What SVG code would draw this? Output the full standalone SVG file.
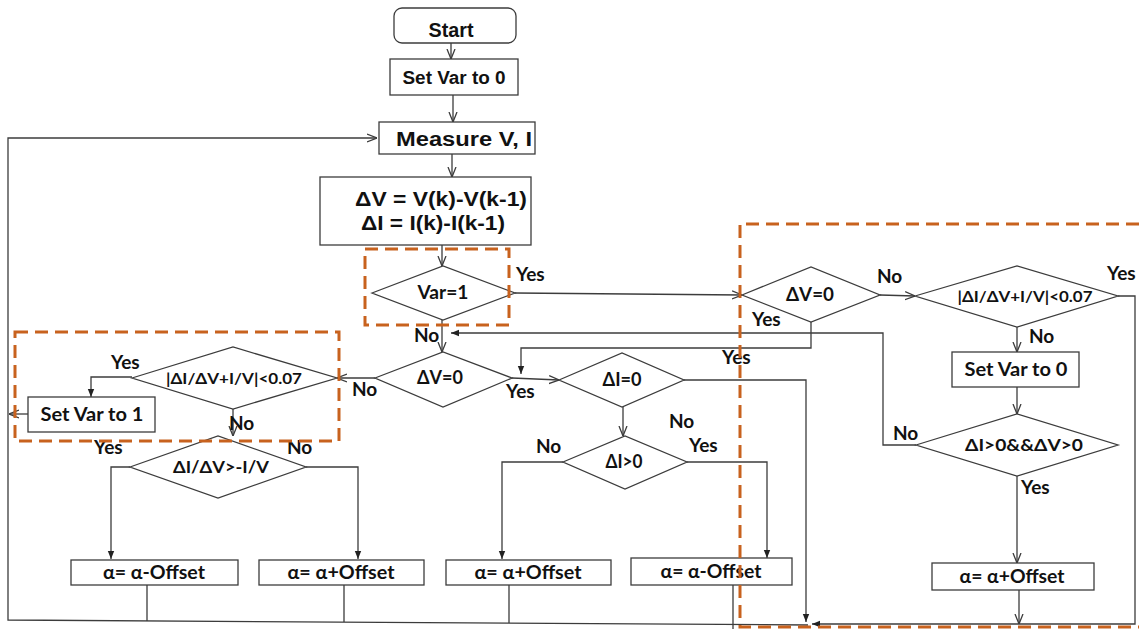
<svg xmlns="http://www.w3.org/2000/svg" width="1139" height="629" viewBox="0 0 1139 629">
<style>
.n{fill:#fff;stroke:#3c3c3c;stroke-width:1.3}
.c{fill:none;stroke:#3c3c3c;stroke-width:1.3}
.d{fill:none;stroke:#C8621E;stroke-width:3;stroke-dasharray:13 7}
.t1{font-family:"Liberation Sans",Arial,sans-serif;font-weight:700;fill:#111;text-anchor:middle}
.t{font-family:Lato,"Open Sans",sans-serif;font-weight:700;fill:#111;text-anchor:middle}
.l{font-family:Lato,"Open Sans",sans-serif;font-weight:700;fill:#111;font-size:19px}
</style>
<defs>
<marker id="ao" viewBox="0 0 10 10" refX="10" refY="5" markerWidth="10" markerHeight="10" markerUnits="userSpaceOnUse" orient="auto"><path d="M0,1 L10,5 L0,9" fill="none" stroke="#3c3c3c" stroke-width="1.3"/></marker>
<marker id="af" viewBox="0 0 10 10" refX="10" refY="5" markerWidth="8" markerHeight="8" markerUnits="userSpaceOnUse" orient="auto"><path d="M0,1 L10,5 L0,9 z" fill="#222"/></marker>
</defs>
<rect width="1139" height="629" fill="#fff"/>

<g id="connectors">
<path class="c" d="M451,43 V59" marker-end="url(#ao)"/>
<path class="c" d="M453,95 V122" marker-end="url(#ao)"/>
<path class="c" d="M452,154 V177" marker-end="url(#ao)"/>
<path class="c" d="M442,245 V266" marker-end="url(#ao)"/>
<path class="c" d="M442,320 V352" marker-end="url(#ao)"/>
<path class="c" d="M515,293 L742,295" marker-end="url(#ao)"/>
<path class="c" d="M512,378 L559,380" marker-end="url(#ao)"/>
<path class="c" d="M375,378 H337" marker-end="url(#ao)"/>
<path class="c" d="M132,377 H91 V397" marker-end="url(#af)"/>
<path class="c" d="M28,414 H9" marker-end="url(#ao)"/>
<path class="c" d="M233,409 V436" marker-end="url(#ao)"/>
<path class="c" d="M130,467 H111 V559" marker-end="url(#af)"/>
<path class="c" d="M306,467 H358 V559" marker-end="url(#af)"/>
<path class="c" d="M623,407 V436" marker-end="url(#ao)"/>
<path class="c" d="M563,462 H502 V559" marker-end="url(#af)"/>
<path class="c" d="M687,462 H767 V558" marker-end="url(#af)"/>
<path class="c" d="M684,380 H806 V622" marker-end="url(#af)"/>
<path class="c" d="M880,295 L915,296" marker-end="url(#ao)"/>
<path class="c" d="M811,322 V348 H521 V374" marker-end="url(#af)"/>
<path class="c" d="M1017,327 V352" marker-end="url(#ao)"/>
<path class="c" d="M1118,296 H1135 V624 H812" marker-end="url(#af)"/>
<path class="c" d="M1017,387 V414" marker-end="url(#ao)"/>
<path class="c" d="M916,445 H883 V333 H451" marker-end="url(#af)"/>
<path class="c" d="M1017,476 V563" marker-end="url(#ao)"/>
<path class="c" d="M1019,590 V624" marker-end="url(#ao)"/>
<path class="c" d="M147,585 V621 M344,585 V622 M509,585 V623 M733,585 V629"/>
<path class="c" d="M808,625 L8,620 V138 H377" marker-end="url(#ao)"/>
</g>

<g id="start"><rect class="n" x="394" y="8" width="122" height="35" rx="8"/><text class="t1" x="451" y="37" font-size="20" textLength="45" lengthAdjust="spacingAndGlyphs">Start</text></g>
<g id="setvar0"><rect class="n" x="390" y="59" width="128" height="36"/><text class="t1" x="454" y="84" font-size="18" textLength="103" lengthAdjust="spacingAndGlyphs">Set Var to 0</text></g>
<g id="measure"><rect class="n" x="379" y="122" width="156" height="32"/><text class="t1" x="464" y="146" font-size="20" textLength="136" lengthAdjust="spacingAndGlyphs">Measure V, I</text></g>
<g id="delta"><rect class="n" x="320" y="177" width="211" height="68"/><text class="t1" x="441" y="206" font-size="20" textLength="172" lengthAdjust="spacingAndGlyphs">ΔV = V(k)-V(k-1)</text><text class="t1" x="433" y="230" font-size="20" textLength="144" lengthAdjust="spacingAndGlyphs">ΔI = I(k)-I(k-1)</text></g>

<g id="var1"><path class="n" d="M372,293 L443,266 L515,293 L443,320 Z"/><text class="t" x="443" y="299" font-size="18" textLength="51" lengthAdjust="spacingAndGlyphs">Var=1</text></g>
<g id="dv0mid"><path class="n" d="M375,378 L443,352 L512,378 L443,407 Z"/><text class="t" x="440" y="384" font-size="18" textLength="46" lengthAdjust="spacingAndGlyphs">ΔV=0</text></g>
<g id="di0"><path class="n" d="M559,380 L622,353 L684,380 L622,407 Z"/><text class="t" x="622" y="386" font-size="18" textLength="39" lengthAdjust="spacingAndGlyphs">ΔI=0</text></g>
<g id="dipos"><path class="n" d="M563,462 L625,436 L687,462 L625,489 Z"/><text class="t" x="624" y="468" font-size="18" textLength="37" lengthAdjust="spacingAndGlyphs">ΔI&gt;0</text></g>
<g id="condleft"><path class="n" d="M132,378 L233,347 L337,378 L233,409 Z"/><text class="t" x="234" y="384" font-size="16" textLength="136" lengthAdjust="spacingAndGlyphs">|ΔI/ΔV+I/V|&lt;0.07</text></g>
<g id="setvar1"><rect class="n" x="28" y="397" width="127" height="35"/><text class="t" x="92" y="421" font-size="18" textLength="103" lengthAdjust="spacingAndGlyphs">Set Var to 1</text></g>
<g id="slope"><path class="n" d="M130,467 L218,436 L306,467 L218,498 Z"/><text class="t" x="221" y="473" font-size="17" textLength="96" lengthAdjust="spacingAndGlyphs">ΔI/ΔV&gt;-I/V</text></g>
<g id="dv0right"><path class="n" d="M742,295 L811,267 L880,295 L811,322 Z"/><text class="t" x="810" y="301" font-size="18" textLength="48" lengthAdjust="spacingAndGlyphs">ΔV=0</text></g>
<g id="condright"><path class="n" d="M915,296 L1017,266 L1118,296 L1017,327 Z"/><text class="t" x="1025" y="302" font-size="16" textLength="135" lengthAdjust="spacingAndGlyphs">|ΔI/ΔV+I/V|&lt;0.07</text></g>
<g id="setvar0r"><rect class="n" x="952" y="352" width="127" height="35"/><text class="t" x="1016" y="376" font-size="18" textLength="103" lengthAdjust="spacingAndGlyphs">Set Var to 0</text></g>
<g id="both"><path class="n" d="M916,445 L1017,414 L1118,445 L1017,476 Z"/><text class="t" x="1024" y="451" font-size="17" textLength="118" lengthAdjust="spacingAndGlyphs">ΔI&gt;0&amp;&amp;ΔV&gt;0</text></g>
<g id="a1"><rect class="n" x="71" y="560" width="167" height="25"/><text class="t" x="154" y="579" font-size="18" textLength="102" lengthAdjust="spacingAndGlyphs">α= α-Offset</text></g>
<g id="a2"><rect class="n" x="259" y="560" width="165" height="25"/><text class="t" x="341" y="579" font-size="18" textLength="107" lengthAdjust="spacingAndGlyphs">α= α+Offset</text></g>
<g id="a3"><rect class="n" x="446" y="560" width="165" height="25"/><text class="t" x="528" y="579" font-size="18" textLength="107" lengthAdjust="spacingAndGlyphs">α= α+Offset</text></g>
<g id="a4"><rect class="n" x="631" y="558" width="161" height="27"/><text class="t" x="711" y="578" font-size="18" textLength="101" lengthAdjust="spacingAndGlyphs">α= α-Offset</text></g>
<g id="a5"><rect class="n" x="932" y="563" width="162" height="27"/><text class="t" x="1012" y="583" font-size="18" textLength="105" lengthAdjust="spacingAndGlyphs">α= α+Offset</text></g>

<g id="labels">
<text class="l" x="516" y="281">Yes</text>
<text class="l" x="414" y="342">No</text>
<text class="l" x="352" y="396">No</text>
<text class="l" x="506" y="398">Yes</text>
<text class="l" x="111" y="369">Yes</text>
<text class="l" x="229" y="430">No</text>
<text class="l" x="94" y="454">Yes</text>
<text class="l" x="287" y="454">No</text>
<text class="l" x="669" y="428">No</text>
<text class="l" x="689" y="452">Yes</text>
<text class="l" x="536" y="453">No</text>
<text class="l" x="722" y="364">Yes</text>
<text class="l" x="877" y="283">No</text>
<text class="l" x="752" y="326">Yes</text>
<text class="l" x="1107" y="280">Yes</text>
<text class="l" x="1029" y="343">No</text>
<text class="l" x="893" y="440">No</text>
<text class="l" x="1021" y="494">Yes</text>
</g>

<g id="highlights">
<rect class="d" x="365" y="249" width="144" height="76"/>
<rect class="d" x="15" y="332" width="324" height="109"/>
<path class="d" d="M1139,224 H740 V627 H1139"/>
</g>
</svg>
